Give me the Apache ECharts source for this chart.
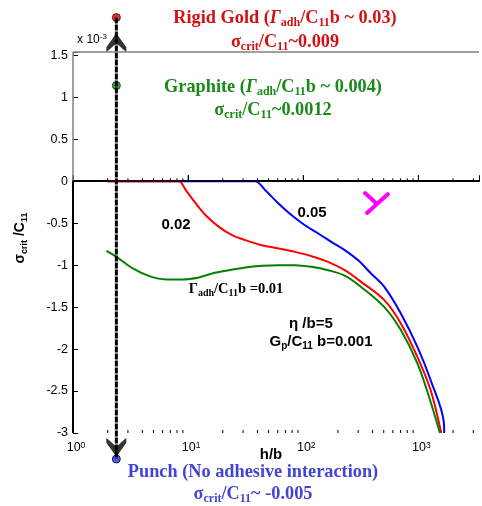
<!DOCTYPE html>
<html>
<head>
<meta charset="utf-8">
<script src="https://cdn.jsdelivr.net/npm/echarts@6/dist/echarts.min.js"></script>
<style>
html,body{margin:0;padding:0;background:#fff;}
#c{width:482px;height:506px;}
</style>
</head>
<body>
<div id="c"></div>
<script>
// ---- data (h/b on log axis, sigma_crit/C11 in units of 1e-3) ----
const blueX  = [2, 36, 38.3, 46.8, 60.9, 79.3, 103.4, 135, 175, 229, 298, 388, 506, 704, 980, 1276, 1666, 1675];
const blueY  = [0, 0, 0, -0.107, -0.265, -0.405, -0.524, -0.623, -0.723, -0.821, -0.94, -1.099, -1.258, -1.575, -1.973, -2.369, -2.885, -3.0];
const redX   = [2, 7.9, 8.36, 9.55, 11.65, 14.2, 18.5, 24.1, 31.4, 43.7, 60.9, 84.8, 118, 164, 229, 318, 506, 704, 980, 1276, 1579];
const redY   = [0, 0, 0, -0.107, -0.265, -0.405, -0.544, -0.643, -0.702, -0.762, -0.801, -0.842, -0.893, -0.961, -1.06, -1.199, -1.417, -1.694, -2.092, -2.488, -3.0];
const greenX = [1.95, 2.38, 3.31, 4.61, 6.43, 8.93, 12.4, 16.2, 22.6, 31.4, 43.7, 60.9, 84.8, 118, 164, 229, 318, 506, 704, 980, 1236, 1538];
const greenY = [-0.83, -0.901, -1.039, -1.131, -1.17, -1.17, -1.146, -1.099, -1.06, -1.027, -1.008, -1.0, -1.0, -1.02, -1.06, -1.125, -1.26, -1.5, -1.774, -2.17, -2.568, -3.0];
const majorTickX = [1, 10, 100, 1000];
const minorTickX = [2,3,4,5,6,7,8,9,20,30,40,50,60,70,80,90,200,300,400,500,600,700,800,900,2000,3000];
const markerX = 2.38;
const redDotY = 1.95, greenDotY = 1.14, blueDotY = -3.31;
const upArrowY = 1.65, downArrowY = -3.17;
const xMin = 1, xMax = 3360, yMin = -3, yMax = 1.54;

const zip = (a, b) => a.map((v, i) => [v, b[i]]);
const SERIF = 'Liberation Serif';
const SANS = 'Liberation Sans';

function richSet(color, size, family, subSize) {
  return {
    n: {fontSize: size, fontWeight: 'bold', fontFamily: family, fill: color, lineHeight: size + 4},
    i: {fontSize: size, fontWeight: 'bold', fontStyle: 'italic', fontFamily: family, fill: color, lineHeight: size + 4},
    s: {fontSize: subSize, fontWeight: 'bold', fontFamily: family, fill: color, verticalAlign: 'bottom', lineHeight: subSize + 1}
  };
}
function txt(x, y, text, rich, align) {
  return {
    type: 'text', x: x, y: y, silent: true,
    style: {text: text, rich: rich, align: align || 'center', verticalAlign: 'middle'}
  };
}

const RED = '#d41010', GREEN = '#1a8a1a', BLUE = '#4343d4';
const rRed = richSet(RED, 18.3, SERIF, 12);
const rGreen = richSet(GREEN, 18.3, SERIF, 12);
const rBlue = richSet(BLUE, 18.3, SERIF, 12);
const rBlack = richSet('#000', 14.5, SERIF, 10);
const rSans = richSet('#000', 15, SANS, 10);

const chart = echarts.init(document.getElementById('c'), null, {renderer: 'canvas'});
const option = {
  animation: false,
  backgroundColor: '#fff',
  textStyle: {fontFamily: SANS},
  grid: {left: 73, right: 0, top: 52, bottom: 73, containLabel: false},
  xAxis: {
    type: 'log', logBase: 10, min: xMin, max: xMax,
    axisLine: {show: true, lineStyle: {color: '#000', width: 2}},
    axisTick: {show: true, inside: true, length: 6, lineStyle: {color: '#000', width: 1}},
    minorTick: {show: false},
    splitLine: {show: false},
    axisLabel: {
      margin: 8, color: '#000',
      formatter: function (v) {
        const l = Math.log10(v);
        if (Math.abs(l - Math.round(l)) > 1e-6) return '';
        return '{p|}{b|10}{s|' + Math.round(l) + '}';
      },
      rich: {
        p: {width: 6},
        b: {fontSize: 12.5, fontFamily: SANS, color: '#000', lineHeight: 14},
        s: {fontSize: 8.5, fontFamily: SANS, color: '#000', verticalAlign: 'top', lineHeight: 8}
      }
    }
  },
  yAxis: {
    type: 'value', min: yMin, max: yMax, interval: 0.5,
    axisLine: {show: false},
    axisTick: {show: true, inside: true, length: 5, lineStyle: {color: '#000', width: 1}},
    splitLine: {show: false},
    axisLabel: {
      margin: 5, color: '#000', fontSize: 12.5, fontFamily: SANS,
      formatter: function (v) {
        if (Math.abs(v * 2 - Math.round(v * 2)) > 1e-6) return '';
        return String(Math.round(v * 2) / 2);
      }
    }
  },
  series: [
    {
      type: 'line', data: [], silent: true,
      markLine: {
        silent: true, symbol: 'none', label: {show: false}, animation: false,
        data: [
          [{coord: [xMin, yMax], lineStyle: {color: '#808080', width: 1.5, type: 'solid'}}, {coord: [xMax, yMax]}],
          [{coord: [xMin, 0], lineStyle: {color: '#808080', width: 1.5, type: 'solid'}}, {coord: [xMin, yMax]}],
          [{coord: [xMin, yMin], lineStyle: {color: '#000', width: 2, type: 'solid'}}, {coord: [xMin, 0]}],
          [{coord: [xMin, 0], lineStyle: {color: '#000', width: 1.5, type: 'solid'}}, {coord: [xMax, 0]}]
        ]
      }
    },
    {
      type: 'custom', silent: true, clip: false,
      data: minorTickX.map(v => [v, 3]).concat(majorTickX.map(v => [v, 6])),
      renderItem: function (params, api) {
        const x = api.value(0), len = api.value(1);
        const b = api.coord([x, yMin]);
        const z = api.coord([x, 0]);
        const kids = [{type: 'line', shape: {x1: z[0], y1: z[1], x2: z[0], y2: z[1] - len}, style: {stroke: '#000', lineWidth: 1}}];
        if (len < 5) kids.push({type: 'line', shape: {x1: b[0], y1: b[1], x2: b[0], y2: b[1] - len}, style: {stroke: '#000', lineWidth: 1}});
        return {type: 'group', children: kids};
      }
    },
    {type: 'line', data: zip(blueX, blueY), showSymbol: false, smooth: 0.35, lineStyle: {color: '#0000ff', width: 2}, silent: true},
    {type: 'line', data: zip(redX, redY), showSymbol: false, smooth: 0.35, lineStyle: {color: '#ff0000', width: 2}, silent: true},
    {type: 'line', data: zip(greenX, greenY), showSymbol: false, smooth: 0.35, lineStyle: {color: '#008000', width: 2}, silent: true},
    {
      type: 'line', clip: false, silent: true, showSymbol: false,
      data: [[markerX, redDotY], [markerX, blueDotY]],
      lineStyle: {color: '#000', width: 3, type: [6, 1]}
    },
    {
      type: 'scatter', clip: false, silent: true,
      data: [
        {value: [markerX, upArrowY], symbol: 'path://M10,0 L20,14 L20,19 L10,10 L0,19 L0,14 Z', symbolSize: [20, 19], itemStyle: {color: '#000'}},
        {value: [markerX, downArrowY], symbol: 'path://M0,0 L10,9 L20,0 L20,5 L10,19 L0,5 Z', symbolSize: [20, 19], itemStyle: {color: '#000'}},
        {value: [markerX, redDotY], symbol: 'circle', symbolSize: 8, itemStyle: {color: '#e00000', borderColor: '#400', borderWidth: 1}},
        {value: [markerX, greenDotY], symbol: 'circle', symbolSize: 8, itemStyle: {color: '#1a8a1a', borderColor: '#030', borderWidth: 1}},
        {value: [markerX, blueDotY], symbol: 'circle', symbolSize: 8, itemStyle: {color: '#3030e0', borderColor: '#003', borderWidth: 1}}
      ]
    }
  ],
  graphic: [
    txt(285, 18, '{n|Rigid Gold (}{i|Γ}{s|adh}{n|/C}{s|11}{n|b ~ 0.03)}', rRed),
    txt(285, 42, '{n|σ}{s|crit}{n|/C}{s|11}{n|~0.009}', rRed),
    txt(273, 87, '{n|Graphite (}{i|Γ}{s|adh}{n|/C}{s|11}{n|b ~ 0.004)}', rGreen),
    txt(273, 110, '{n|σ}{s|crit}{n|/C}{s|11}{n|~0.0012}', rGreen),
    txt(253, 472, '{n|Punch (No adhesive interaction)}', rBlue),
    txt(253, 494, '{n|σ}{s|crit}{n|/C}{s|11}{n|~ -0.005}', rBlue),
    txt(236, 289, '{n|Γ}{s|adh}{n|/C}{s|11}{n|b =0.01}', rBlack),
    txt(176, 225, '{n|0.02}', rSans),
    txt(312, 213, '{n|0.05}', rSans),
    txt(289, 324, '{n|η /b=5}', rSans, 'left'),
    txt(321, 342, '{n|G}{s|p}{n|/C}{s|11}{n| b=0.001}', rSans),
    txt(271, 455, '{n|h/b}', rSans),
    {
      type: 'text', x: 20, y: 238, rotation: Math.PI / 2, silent: true,
      style: {text: '{n|σ}{s|crit}{n| /C}{s|11}', rich: richSet('#000', 14, SANS, 9), align: 'center', verticalAlign: 'middle'}
    },
    {
      type: 'text', x: 92, y: 40, silent: true,
      style: {
        text: '{n|x 10}{p|-3}', align: 'center', verticalAlign: 'middle',
        rich: {
          n: {fontSize: 12, fontFamily: SANS, fill: '#000', lineHeight: 14},
          p: {fontSize: 8, fontFamily: SANS, fill: '#000', verticalAlign: 'top', lineHeight: 8}
        }
      }
    },
    {type: 'polyline', silent: true, shape: {points: [[388, 194], [367, 213]]}, style: {stroke: '#ff00ff', lineWidth: 4, lineCap: 'round'}},
    {type: 'polyline', silent: true, shape: {points: [[365, 193], [377, 204]]}, style: {stroke: '#ff00ff', lineWidth: 4, lineCap: 'round'}}
  ]
};
chart.setOption(option);
</script>
</body>
</html>
